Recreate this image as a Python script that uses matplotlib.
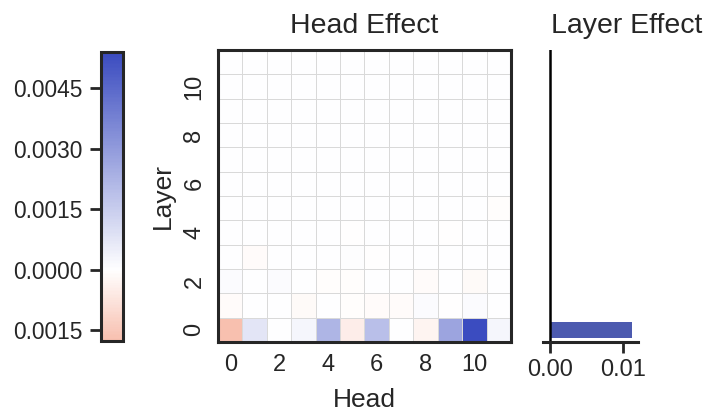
import numpy as np
import matplotlib
matplotlib.use("Agg")
import matplotlib.pyplot as plt
from matplotlib.colors import LinearSegmentedColormap, ListedColormap, Normalize

plt.rcParams['font.family'] = ['Liberation Sans', 'DejaVu Sans']
plt.rcParams['text.color'] = '#262626'
plt.rcParams['axes.labelcolor'] = '#262626'
plt.rcParams['xtick.color'] = '#262626'
plt.rcParams['ytick.color'] = '#262626'

# values (rows = layers 0..11, columns = heads 0..11)
heads = list(range(12))
layers = list(range(12))
head_effect = [
    [-0.00177, 0.0008, 0.00003, 0.0003, 0.0022, -0.0005, 0.0019, 0.0, -0.0003, 0.0027, 0.0054, 0.0003],
    [-0.0001, 0.0, 0.0, -0.00015, 0.0, -0.00005, -0.0001, -0.0001, 0.0001, -0.00003, 0.0001, 0.0],
    [0.0001, 0.0, 0.00012, 0.0, -0.00005, -0.00005, 0.0, 0.0, -0.0001, 0.0, -0.00013, 0.0],
    [0.0, -0.0001, 0.0, 0.0, 0.0, 0.00007, -0.00003, 0.0, 0.0, 0.0, 0.00002, 0.0],
    [0.0, 0.0, 0.0, 0.0, 0.0, -0.00003, 0.0, 0.0, 0.0, -0.00003, 0.0, 0.0],
    [0.0, 0.0, 0.0, 0.0, 0.0, 0.0, 0.0, 0.0, 0.0, 0.0, 0.0, -0.00008],
    [0.0, 0.0, 0.0, 0.0, 0.0, 0.0, 0.0, 0.0, 0.0, 0.0, 0.0, 0.0],
    [0.0, 0.0, 0.0, 0.0, 0.0, 0.0, 0.0, 0.0, 0.0, 0.0, 0.0, 0.0],
    [0.0, 0.0, 0.0, 0.0, 0.0, 0.0, 0.0, 0.0, 0.0, 0.0, 0.0, 0.0],
    [0.0, 0.0, 0.0, 0.0, 0.0, 0.0, 0.0, 0.0, 0.0, 0.0, 0.0, 0.0],
    [0.0, 0.0, 0.0, 0.0, 0.0, 0.0, 0.0, 0.0, 0.0, 0.0, 0.0, 0.0],
    [0.0, 0.0, 0.0, 0.0, 0.0, 0.0, 0.0, 0.0, 0.0, 0.0, 0.0, 0.0],
]
layer_effect = [0.01123, 0, 0, 0, 0, 0, 0, 0, 0, 0, 0, 0]
cbar_ticks = [-0.0015, 0.0, 0.0015, 0.0030, 0.0045]
cbar_labels = ['0.0015', '0.0000', '0.0015', '0.0030', '0.0045']

data = np.array(head_effect)
vmin, vmax = data.min(), data.max()
vrange = max(vmax, -vmin)

# diverging map centred on zero, cropped to the data range
full = LinearSegmentedColormap.from_list('div', ['#e83c0a', '#ffffff', '#3b4cc0'])
lo = 0.5 + vmin / (2 * vrange)
hi = 0.5 + vmax / (2 * vrange)
cmap = ListedColormap(full(np.linspace(lo, hi, 256)))
norm = Normalize(vmin, vmax)

fig = plt.figure(figsize=(7.08, 4.11), dpi=100)
cax = fig.add_axes([0.1427, 0.1703, 0.0311, 0.703])
hax = fig.add_axes([0.3079, 0.1679, 0.4138, 0.7105])
lax = fig.add_axes([0.7669, 0.1679, 0.1342, 0.7105])

# heatmap
x_edges = np.arange(len(heads) + 1) - 0.5
y_edges = np.arange(len(layers) + 1) - 0.5
mesh = hax.pcolormesh(x_edges, y_edges, data, cmap=cmap, norm=norm,
                      edgecolors='#d9d9d9', linewidth=0.7)
hax.set_xlim(-0.5, 11.5)
hax.set_ylim(-0.5, 11.5)
hax.set_xticks(heads[::2])
hax.set_yticks(layers[::2])
hax.tick_params(axis='both', length=0, pad=9, labelsize=17)
hax.tick_params(axis='y', labelrotation=90)
for lbl in hax.get_yticklabels():
    lbl.set_va('center')
for s in hax.spines.values():
    s.set_linewidth(2.2)
    s.set_color('#262626')
hax.set_xlabel('Head', fontsize=19, labelpad=8)
hax.set_ylabel('Layer', fontsize=19, labelpad=6)
hax.set_title('Head Effect', fontsize=20.5, pad=12)

# colour bar
cb = fig.colorbar(mesh, cax=cax, ticklocation='left')
cb.set_ticks(cbar_ticks)
cb.set_ticklabels(cbar_labels)
cb.outline.set_linewidth(2.2)
cb.outline.set_edgecolor('#262626')
cax.tick_params(length=8, width=2, labelsize=16.4, pad=5)

# layer effect bars
lax.barh(layers, layer_effect, height=0.68, color='#4c5aaf')
lax.axvline(0, color='black', linewidth=1.8)
lax.set_ylim(-0.5, 11.5)
lax.set_xlim(-0.00096, 0.0121)
lax.set_xticks([0.0, 0.01])
lax.set_xticklabels(['0.00', '0.01'])
lax.set_yticks([])
lax.tick_params(axis='x', length=8, width=2, labelsize=17, pad=4)
for side in ['top', 'right', 'left']:
    lax.spines[side].set_visible(False)
lax.spines['bottom'].set_linewidth(2.2)
lax.spines['bottom'].set_color('#262626')
lax.set_title('Layer Effect', fontsize=20.5, pad=12, x=0.884)

fig.savefig('out.png', dpi=100)
